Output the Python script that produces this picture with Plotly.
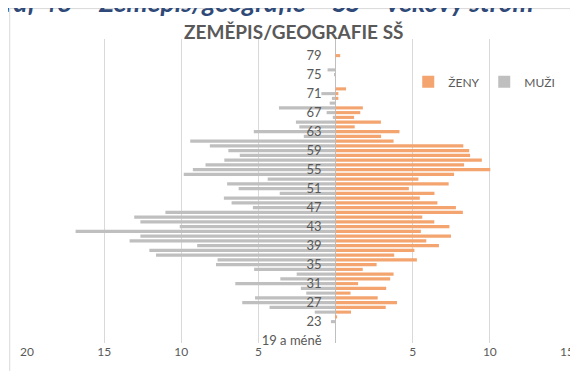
import plotly.graph_objects as go

# age groups, bottom to top
ages = ["19 a méně"] + [str(a) for a in range(20, 80)]

muzi = [0, 0, 0, 0, 0.3, 0, 1.35, 4.28, 6.05, 5.22,
        1.9, 2.25, 6.5, 3.58, 2.52, 5.28, 7.75, 7.65, 11.64, 12.07,
        8.97, 13.35, 12.65, 16.85, 10.1, 12.65, 13.05, 11.03, 5.36, 6.74,
        7.24, 3.62, 6.28, 7.03, 4.4, 9.84, 9.25, 8.43, 7.21, 6.21,
        6.95, 8.15, 9.42, 2.06, 5.3, 2.35, 2.57, 0.18, 0.58, 3.67,
        0.38, 0.24, 0.92, 0, 0, 0, 0.08, 0.52, 0, 0, 0]

zeny = [0, 0, 0, 0, 0, 0.1, 1.0, 3.25, 3.98, 2.73,
        0.97, 3.28, 1.46, 3.54, 3.76, 1.76, 2.66, 5.27, 3.8, 5.11,
        6.7, 5.88, 7.48, 5.53, 7.38, 6.4, 5.62, 8.25, 7.8, 6.6,
        5.46, 6.41, 4.75, 7.33, 5.37, 7.68, 10.03, 8.33, 9.48, 8.72,
        8.66, 8.28, 3.76, 2.95, 4.14, 1.24, 2.94, 1.2, 1.6, 1.77,
        0, 0.18, 0.18, 0.68, 0, 0, 0, 0, 0, 0, 0.3]

x_ticks = [-20, -15, -10, -5, 0, 5, 10, 15]
x_labels = ["20", "15", "10", "5", "", "5", "10", "15"]

GRAY_TXT = "#595959"
font = "Lato"

fig = go.Figure()
fig.add_trace(go.Bar(y=ages, x=zeny, name="ŽENY", orientation="h",
                     marker=dict(color="#F4A46F", line_width=0)))
fig.add_trace(go.Bar(y=ages, x=[-v for v in muzi], name="MUŽI", orientation="h",
                     marker=dict(color="#BFBFBF", line_width=0)))

# chart border (Excel chart area)
fig.add_shape(type="rect", xref="paper", yref="paper",
              x0=-0.032, x1=1.12, y0=-0.2, y1=1.100,
              line=dict(color="#D9D9D9", width=1), fillcolor="rgba(0,0,0,0)",
              layer="below")

# heading above the chart, cut off by the page edge
fig.add_annotation(text="<b><i>Graf 48 – Zeměpis/geografie – SŠ – věkový strom</i></b>",
                   xref="paper", yref="paper", x=-0.077, y=1.062,
                   xanchor="left", yanchor="bottom", showarrow=False,
                   font=dict(family=font, size=26.5, color="#2F4A78"))

fig.update_layout(
    width=578, height=371,
    margin=dict(l=18, r=16, t=31, b=36),
    plot_bgcolor="white", paper_bgcolor="white",
    barmode="overlay", bargap=0.35,
    title=dict(text="<b>ZEMĚPIS/GEOGRAFIE SŠ</b>", x=0.494, xref="paper",
               xanchor="center", y=0.935, yanchor="middle",
               font=dict(family=font, size=19, color=GRAY_TXT)),
    legend=dict(orientation="h", x=0.706, y=0.859, xanchor="left", yanchor="middle",
                font=dict(family=font, size=12, color=GRAY_TXT),
                bgcolor="rgba(0,0,0,0)", itemwidth=30, traceorder="normal",
                entrywidth=31, entrywidthmode="pixels"),
    font=dict(family=font, color=GRAY_TXT),
)

fig.update_xaxes(range=[-20, 15], tickvals=x_ticks, ticktext=x_labels,
                 showgrid=True, gridcolor="#D9D9D9", gridwidth=1,
                 zeroline=True, zerolinecolor="#BFBFBF", zerolinewidth=1,
                 showline=False, ticks="",
                 tickfont=dict(family=font, size=12, color=GRAY_TXT))

fig.update_yaxes(type="category", categoryorder="array", categoryarray=ages,
                 range=[-0.5, 63.5],
                 tickvals=ages[::4], ticktext=ages[::4],
                 anchor="free", position=20 / 35, side="left",
                 showgrid=False, showline=False, ticks="",
                 ticklabelstandoff=14,
                 tickfont=dict(family=font, size=13, color=GRAY_TXT))

fig.write_html("out.html")
